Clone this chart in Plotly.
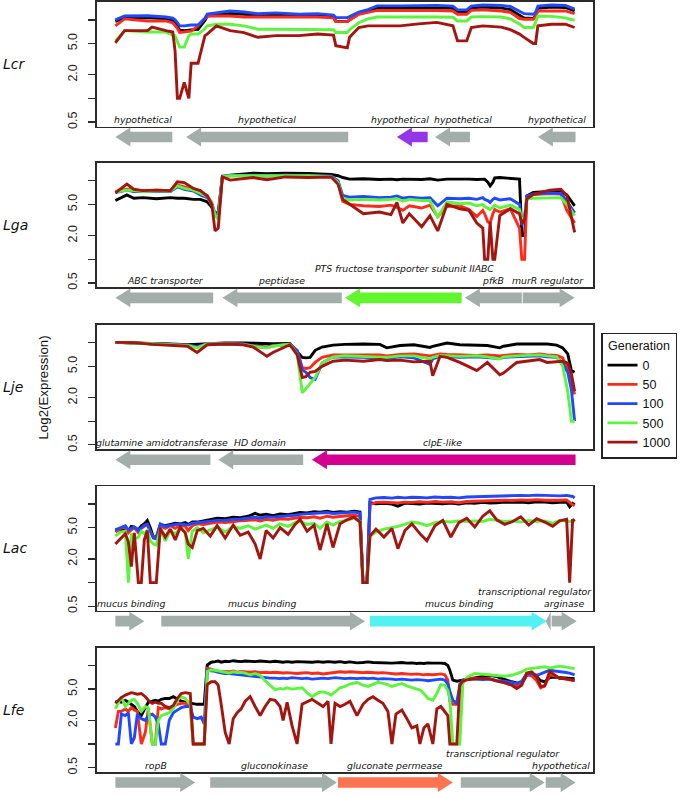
import plotly.graph_objects as go

# ---------------- DATA ----------------
GENERATIONS = ["0", "50", "100", "500", "1000"]

# Lcr (positions in relative units)
lcr_x = [0, 2, 7, 8, 11, 12.5, 13, 13.5, 14, 15, 16, 16.5, 18, 19.5, 20, 22, 25, 28, 31, 35, 40, 44, 47.5, 48,
         50.5, 51, 53, 55, 57, 62, 66, 70, 73.5, 74.5, 76.5, 77.5, 80, 84, 86, 88, 89, 91, 91.5, 92, 95, 98, 100]
lcr_g0 = [9.6, 10.6, 10.7, 10.6, 10.3, 9.9, 9.4, 8.4, 7.4, 7.3, 7.4, 7.5, 7.6, 9.8, 11.2, 11.6, 12.1, 11.8, 11.3,
          11.6, 11.1, 11.3, 10.8, 9.6, 9.5, 10, 12, 12.8, 14.2, 14.2, 14.4, 14.3, 14, 12.4, 12.5, 14.3, 14.6, 14.2,
          13.5, 11.4, 10.6, 10.4, 11.2, 14, 14.6, 14.4, 13]
lcr_g50 = [8.4, 10.3, 9.7, 9.7, 9.7, 9.2, 8.6, 7.8, 6.9, 7.0, 7.0, 7.2, 8.4, 10.6, 11.2, 11.2, 11.2, 10.9, 10.9,
           10.9, 10.8, 10.9, 10.6, 9.5, 9.5, 10, 11.8, 12.4, 13.2, 13.2, 13.3, 13.2, 13, 11.8, 11.8, 13.2, 13.4,
           13, 12.5, 10.4, 10.2, 10.2, 11, 13, 13, 13, 12]
lcr_g100 = [10, 11.2, 11.3, 11.2, 10.9, 10.5, 10, 9.2, 8.4, 8.4, 8.6, 8.6, 8.6, 10.5, 11.9, 12.3, 13, 12.6, 12,
            12.3, 11.8, 12, 11.5, 10.7, 10.7, 11, 12.6, 13.5, 15.1, 15.1, 15.3, 15.3, 15, 13.4, 13.4, 15, 15.5,
            15.3, 14.8, 13, 12, 11.8, 12.5, 15, 15.5, 15.3, 13.7]
lcr_g500 = [5.4, 7.3, 7.0, 7.0, 7.0, 6.4, 6.3, 5.3, 4.5, 4.5, 6.3, 6.6, 6.6, 7.7, 8.4, 8.8, 8.8, 8.4, 7.6, 7.6,
            7.6, 7.6, 7.5, 6.9, 6.9, 7.5, 9.2, 10.3, 10.9, 10.9, 11.0, 10.9, 10.8, 9.7, 9.7, 10.9, 11.0, 10.9,
            10.3, 8.9, 8.0, 8.0, 9.4, 11.2, 11.1, 10.6, 9.9]
lcr_g1000 = [5.1, 7.3, 7.3, 8.1, 7.3, 7.0, 4.0, 1.0, 1.0, 1.6, 1.0, 2.8, 2.8, 6.3, 6.6, 8.4, 7.3, 6.9, 6.0, 6.3,
             6.3, 6.6, 6.4, 4.7, 4.4, 6.0, 8.0, 8.4, 8.4, 8.4, 8.9, 9.3, 8.4, 5.4, 5.4, 8.0, 8.4, 8.1, 7.5, 6.6,
             6.0, 5.0, 5.0, 8.4, 8.8, 8.8, 8.0]
lcr_gene_start = [0, 15.4, 61.3, 69.6, 92.0]
lcr_gene_end = [12.4, 50.7, 68.0, 77.2, 100.2]
lcr_gene_strand = [-1, -1, -1, -1, -1]
lcr_gene_kind = ["other", "other", "purple", "other", "other"]
lcr_gene_label = ["hypothetical", "hypothetical", "hypothetical", "hypothetical", "hypothetical"]
lcr_label_x = [6.1, 33, 62, 75.7, 96.1]
lcr_label_row = [0, 0, 0, 0, 0]

# Lga
lga_x = [0, 2.5, 4, 6, 9, 12, 13.5, 15, 17, 18.5, 20, 21, 21.7, 22.4, 23.3, 25, 30, 33, 37, 42, 47, 48.5, 49.5,
         51, 54, 57.5, 60, 61.3, 62.6, 64, 66.7, 68.5, 70.2, 72.2, 75, 77, 78.7, 80, 80.4, 81.1, 81.6, 82.2, 82.6,
         83.7, 86, 88, 88.5, 89.1, 89.6, 91, 94.6, 97, 98.3, 100]
lga_g0 = [5.6, 6.6, 6.0, 6.1, 5.9, 6.1, 6.0, 6.0, 5.8, 5.8, 5.4, 4.6, 3.8, 4.0, 11.3, 11.8, 12.5, 12.3, 12.5,
          12.4, 12.0, 11.6, 11.0, 10.5, 10.6, 10.4, 10.5, 10.3, 10.5, 10.4, 10.4, 10.6, 10.2, 10.5, 10.6, 10.5,
          10.4, 10.6, 10.5, 9.6, 8.6, 9.6, 10.9, 11.0, 10.7, 10.5, 2.0, 2.0, 6.4, 7.1, 7.3, 7.2, 6.6, 4.8]
lga_g50 = [7.3, 7.8, 7.6, 7.5, 7.6, 7.5, 8.8, 8.3, 7.8, 7.0, 6.5, 5.2, 3.6, 3.4, 11.3, 11.6, 11.7, 11.5, 11.8,
           11.6, 11.4, 9.5, 5.5, 5.0, 4.8, 4.7, 4.9, 4.6, 4.2, 4.8, 4.5, 4.9, 3.5, 4.7, 4.8, 4.3, 3.5, 4.2, 3.8,
           3.0, 2.9, 3.8, 4.3, 4.0, 4.4, 2.5, 1.0, 1.0, 6.2, 6.7, 6.9, 6.8, 4.2, 2.9]
lga_g100 = [7.1, 7.6, 7.3, 7.3, 7.4, 7.3, 8.4, 7.8, 7.4, 6.6, 6.1, 5.0, 3.9, 3.6, 11.5, 11.7, 11.8, 11.6, 11.8,
            11.7, 11.5, 10.0, 6.5, 6.2, 6.3, 6.1, 6.2, 6.4, 6.0, 6.2, 6.0, 6.1, 4.8, 6.0, 5.9, 6.0, 5.8, 6.1, 5.8,
            5.6, 5.3, 5.8, 6.0, 5.7, 5.9, 5.0, 2.7, 3.5, 6.4, 6.8, 7.0, 6.9, 5.5, 3.9]
lga_g500 = [7.2, 7.6, 7.5, 7.3, 7.4, 7.4, 8.6, 8.0, 7.6, 7.0, 6.3, 5.0, 3.7, 3.2, 11.4, 11.6, 11.6, 11.5, 11.7,
            11.6, 11.3, 9.5, 5.9, 5.7, 5.8, 5.7, 5.8, 5.9, 5.5, 5.8, 5.6, 5.6, 3.4, 5.4, 5.1, 5.2, 4.8, 5.0, 4.7,
            4.5, 4.3, 4.6, 4.9, 4.5, 4.9, 4.3, 3.0, 3.5, 5.9, 6.0, 6.0, 6.1, 5.0, 3.6]
lga_g1000 = [7.0, 9.1, 7.8, 7.5, 7.6, 7.5, 9.7, 9.5, 8.0, 7.5, 6.4, 5.0, 2.3, 2.5, 11.2, 10.2, 11.0, 10.3, 11.2,
             11.0, 11.2, 9.0, 5.8, 5.0, 3.8, 4.0, 3.7, 5.3, 2.9, 3.8, 2.6, 3.6, 2.3, 5.0, 4.4, 4.2, 2.9, 2.5, 1.0,
             1.0, 3.0, 1.0, 1.0, 3.6, 4.4, 3.8, 2.9, 3.2, 5.9, 6.7, 7.6, 7.8, 6.5, 2.2]
lga_gene_start = [0, 23.3, 50, 76.1, 88.7]
lga_gene_end = [21.3, 49.3, 75.4, 88.5, 100]
lga_gene_strand = [-1, -1, -1, -1, 1]
lga_gene_kind = ["other", "other", "green", "other", "other"]
lga_gene_label = ["ABC transporter", "peptidase", "PTS fructose transporter subunit IIABC", "pfkB",
                  "murR regulator"]
lga_label_x = [10.9, 36.1, 63, 82.2, 94.1]
lga_label_row = [0, 0, 1, 0, 0]

# Lje
lje_x = [0, 4, 8, 12, 15.7, 17.8, 20, 24, 27.8, 30, 33, 34.3, 38, 39.6, 40.7, 41.5, 42.4, 43.5, 45, 47.4, 50,
         54, 57.6, 59.1, 62, 65, 68.5, 69.1, 70.7, 72.2, 75, 78.7, 81, 83.7, 84.5, 87.4, 90, 92.4, 94, 96.1, 97.4,
         98.5, 99.3, 100]
lje_g0 = [10.1, 10.0, 9.8, 9.6, 9.4, 9.5, 9.8, 9.9, 9.9, 9.8, 9.6, 9.7, 9.8, 7.8, 6.5, 6.4, 6.5, 8.0, 8.8, 9.3,
          9.5, 9.6, 9.5, 8.6, 9.2, 9.4, 8.7, 9.0, 9.5, 9.9, 9.4, 9.3, 9.2, 8.6, 9.0, 9.6, 9.6, 9.5, 9.6, 9.3, 8.6,
          7.2, 4.4, 4.2]
lje_g50 = [10.1, 10.0, 9.7, 9.5, 9.3, 8.8, 9.6, 9.7, 9.6, 9.1, 8.8, 9.2, 9.5, 8.0, 4.8, 4.7, 4.8, 5.6, 6.5, 7.0,
           7.0, 6.9, 7.0, 6.8, 7.1, 7.2, 6.8, 6.9, 7.2, 7.1, 7.0, 6.9, 7.0, 6.8, 6.9, 7.1, 7.0, 7.2, 7.0, 6.9,
           6.4, 4.5, 3.0, 2.2]
lje_g100 = [10.1, 10.0, 9.7, 9.5, 9.3, 8.9, 9.6, 9.7, 9.6, 9.0, 8.7, 9.1, 9.5, 7.8, 4.5, 4.2, 3.6, 3.4, 5.5, 6.6,
            6.6, 6.5, 6.4, 6.3, 6.6, 6.4, 5.3, 6.2, 6.7, 6.6, 6.5, 6.6, 6.4, 6.3, 6.5, 6.6, 6.7, 6.8, 6.6, 6.5,
            5.4, 4.2, 2.5, 1.0]
lje_g500 = [10.1, 10.0, 9.7, 9.4, 9.2, 8.6, 9.6, 9.6, 9.5, 9.0, 8.6, 9.0, 9.6, 7.0, 2.3, 2.6, 3.0, 3.6, 5.5, 6.6,
            6.8, 6.7, 6.6, 6.5, 6.8, 6.8, 6.2, 6.5, 6.9, 6.8, 6.7, 6.8, 6.6, 6.2, 6.6, 6.8, 6.9, 7.0, 6.8, 6.6,
            5.0, 2.4, 1.0, 1.0]
lje_g1000 = [10.1, 10.0, 9.5, 9.2, 9.0, 7.5, 9.4, 9.6, 9.4, 8.8, 6.7, 7.5, 9.4, 7.0, 3.6, 3.7, 4.2, 4.3, 5.0, 5.8,
             6.0, 5.8, 6.1, 5.9, 6.0, 5.7, 5.8, 3.8, 6.7, 6.5, 5.6, 4.4, 5.6, 3.9, 4.1, 5.6, 5.9, 6.1, 5.6, 5.8,
             5.8, 5.5, 4.0, 2.4]
lje_gene_start = [0, 22.4, 42.8]
lje_gene_end = [20.7, 40.9, 100.2]
lje_gene_strand = [-1, -1, -1]
lje_gene_kind = ["other", "other", "magenta"]
lje_gene_label = ["glutamine amidotransferase", "HD domain", "clpE-like"]
lje_label_x = [10.2, 31.5, 71.3]
lje_label_row = [0, 0, 0]

# Lac
lac_x = [0, 5, 10, 13, 16, 19, 23, 26, 29, 32, 35, 38, 41, 45, 50, 55, 60, 65, 70, 73, 77, 82, 88, 95, 102, 110,
         118, 125, 133, 140, 145, 151, 158, 165, 173, 180, 185, 192, 199, 205, 212, 218, 225, 232, 239, 245, 248,
         252, 255, 261, 269, 277, 283, 290, 297, 305, 312, 320, 328, 336, 344, 352, 360, 368, 375, 382, 390, 398,
         406, 414, 422, 430, 438, 445, 452, 455, 458, 460]
lac_g0 = [4.8, 4.6, 5.0, 4.5, 5.2, 5.1, 4.7, 5.3, 5.6, 6.2, 5.0, 3.8, 3.8, 5.5, 5.3, 5.5, 5.7, 5.6, 5.8, 5.5, 5.9,
          5.9, 6.1, 6.3, 6.6, 6.5, 6.8, 6.7, 7.0, 7.6, 7.2, 7.4, 7.1, 7.5, 7.3, 7.6, 7.8, 7.7, 8.0, 7.9, 8.1, 7.8,
          8.0, 7.9, 8.1, 7.9, 1.0, 1.0, 10.4, 10.1, 10.2, 10.0, 9.4, 10.3, 10.1, 10.0, 10.3, 10.2, 10.1, 10.3,
          10.0, 10.4, 10.2, 10.5, 10.3, 10.4, 10.6, 10.5, 10.6, 10.4, 10.7, 10.6, 10.4, 10.5, 10.6, 9.2, 10.2, 9.8]
lac_g50 = [4.4, 4.9, 5.1, 4.3, 4.7, 5.0, 4.3, 4.9, 5.2, 5.5, 4.4, 3.8, 3.6, 5.3, 4.9, 5.3, 4.9, 5.4, 5.2, 4.6,
           5.3, 5.6, 5.5, 5.7, 5.9, 5.8, 6.0, 6.1, 6.2, 6.3, 6.1, 6.4, 6.2, 6.5, 6.4, 6.6, 6.8, 6.7, 6.9, 6.6, 7.0,
           6.8, 7.0, 7.1, 7.2, 7.0, 1.0, 1.0, 9.8, 10.5, 10.6, 10.4, 10.3, 10.6, 10.5, 10.7, 10.5, 10.8, 10.6,
           10.7, 10.4, 10.8, 10.9, 11.0, 10.9, 11.0, 11.2, 11.1, 11.3, 11.2, 11.4, 11.2, 11.1, 11.2, 11.3, 10.4,
           9.8, 9.5]
lac_g100 = [4.7, 5.0, 5.3, 4.7, 4.9, 5.1, 4.6, 5.0, 5.4, 5.5, 4.6, 3.7, 3.6, 5.6, 5.2, 5.4, 5.5, 5.6, 5.5, 5.4,
            5.7, 5.8, 5.9, 6.0, 6.2, 6.2, 6.4, 6.4, 6.6, 6.8, 6.6, 6.9, 6.8, 7.0, 7.1, 7.2, 7.4, 7.5, 7.6, 7.6,
            7.8, 7.6, 7.7, 7.8, 7.9, 7.7, 1.0, 1.0, 11.5, 12.0, 12.1, 11.9, 12.2, 12.0, 12.2, 12.1, 12.0, 12.3,
            12.1, 12.2, 12.0, 12.3, 12.4, 12.5, 12.6, 12.5, 12.8, 12.8, 12.9, 12.8, 13.0, 12.9, 12.8, 12.7, 12.9,
            12.6, 12.5, 12.0]
lac_g500 = [3.9, 4.4, 4.5, 1.0, 4.2, 3.6, 3.8, 4.5, 4.2, 4.6, 3.4, 3.1, 3.0, 4.8, 3.4, 4.6, 4.2, 4.8, 4.4, 2.0,
            4.5, 5.0, 4.3, 4.7, 5.1, 4.4, 5.2, 4.9, 5.3, 4.8, 5.1, 5.4, 4.9, 5.6, 5.2, 5.8, 6.0, 5.5, 5.7, 4.9,
            5.9, 5.4, 6.0, 6.2, 6.6, 6.0, 1.0, 1.0, 3.9, 4.4, 4.8, 5.0, 5.2, 5.5, 5.9, 5.7, 5.3, 5.8, 6.0, 5.9,
            6.1, 6.0, 6.1, 6.0, 6.4, 6.2, 6.0, 6.1, 5.9, 6.2, 6.0, 6.1, 5.7, 6.2, 6.0, 6.0, 6.1, 6.0]
lac_g1000 = [3.1, 3.6, 4.2, 3.3, 1.6, 4.3, 1.0, 1.0, 3.5, 4.6, 1.0, 1.0, 1.0, 4.9, 3.8, 4.8, 3.5, 5.1, 4.3, 3.1,
             2.8, 4.6, 4.9, 3.9, 5.3, 3.7, 5.4, 4.0, 4.4, 3.1, 2.0, 4.6, 3.7, 5.0, 4.1, 5.5, 6.4, 4.5, 5.4, 2.6,
             5.6, 2.8, 5.6, 6.3, 6.8, 5.9, 1.0, 1.0, 3.9, 4.8, 3.8, 4.9, 2.7, 4.6, 5.6, 4.2, 3.4, 5.3, 6.2, 3.8,
             5.8, 6.6, 5.1, 7.0, 8.2, 6.3, 5.5, 6.0, 6.9, 5.4, 6.5, 5.9, 5.2, 6.1, 6.4, 1.0, 6.4, 6.0]
lac_gene_start = [0, 46, 255, 431, 437]
lac_gene_end = [29, 250, 432, 436, 462]
lac_gene_strand = [1, 1, 1, -1, 1]
lac_gene_kind = ["other", "other", "cyan", "other", "other"]
lac_gene_label = ["mucus binding", "mucus binding", "mucus binding", "transcriptional regulator", "arginase"]
lac_label_x = [16, 147, 345, 420, 449]
lac_label_row = [0, 0, 0, 1, 0]

# Lfe
lfe_x = [0, 3, 6, 10, 13, 16, 19, 22, 26, 30, 33, 37, 40, 43, 46, 50, 54, 58, 62, 66, 70, 75, 78, 82, 86, 89, 92,
         96, 100, 103, 106, 110, 114, 118, 122, 126, 130, 135, 140, 145, 150, 155, 160, 165, 168, 172, 177, 182,
         187, 192, 197, 203, 208, 213, 216, 220, 225, 230, 235, 242, 248, 253, 258, 263, 268, 273, 277, 281, 287,
         292, 297, 302, 305, 309, 313, 318, 322, 326, 330, 333, 335, 338, 342, 345, 348, 353, 360, 368, 375, 382,
         390, 397, 402, 407, 412, 417, 422, 426, 430, 435, 440, 445, 450, 455, 460]
lfe_g0 = [3.4, 3.5, 3.4, 3.6, 3.4, 3.2, 3.0, 2.6, 2.3, 2.9, 3.4, 3.5, 3.6, 3.5, 3.7, 3.8, 3.8, 4.0, 3.7, 3.5, 3.4,
          3.3, 3.3, 3.2, 3.2, 3.2,
          10.1, 11.0, 11.2, 11.4, 11.0, 11.3, 11.2, 11.5, 11.3, 11.2, 11.4, 11.3, 11.2, 11.4, 11.3, 11.1, 11.3,
          11.2, 11.0, 11.2, 11.0, 11.2, 11.1, 10.9, 11.0, 11.2, 11.0, 11.2, 11.1, 11.0, 11.2, 10.9, 11.1, 10.8,
          10.9, 11.1, 10.9, 10.8, 10.9, 10.8, 10.7, 10.8, 10.9, 10.7, 10.8, 10.6, 10.7, 10.6, 10.8, 10.7, 10.8,
          10.7, 10.6,
          10.0, 8.7, 6.5, 6.3, 6.4, 6.5, 6.6, 7.0, 7.3, 7.5, 7.2, 6.6, 6.2, 6.0, 5.9, 7.5, 7.9, 7.2, 6.4, 6.2, 7.0,
          7.1, 7.0, 7.0, 6.9, 6.8]
lfe_g50 = [1.6, 2.6, 2.6, 2.8, 2.6, 2.9, 2.7, 2.6, 1.0, 1.4, 2.8, 1.0, 1.0, 2.9, 2.8, 2.9, 2.8, 3.0, 3.2, 3.3, 3.3,
           3.1, 1.0, 1.0, 1.0, 1.0,
           9.2, 9.0, 8.6, 8.5, 8.3, 8.4, 8.3, 8.5, 8.2, 8.4, 8.3, 8.2, 8.3, 8.1, 8.2, 8.1, 8.2, 8.0, 8.0, 8.1, 8.0,
           7.9, 8.0, 8.1, 7.9, 8.0, 7.8, 7.9, 8.0, 8.2, 8.3, 8.2, 8.3, 8.2, 8.1, 8.2, 8.1, 8.0, 8.1, 8.0, 7.9, 7.8,
           7.9, 7.8, 7.7, 7.8, 7.7, 7.6, 7.7, 7.6, 7.7, 7.8, 7.6,
           6.5, 3.5, 3.2, 3.2, 5.2, 6.5, 6.9, 6.9, 6.8, 6.7, 6.4, 6.2, 5.8, 5.4, 6.0, 7.6, 7.4, 6.4, 5.2, 5.5, 7.6,
           7.4, 6.9, 6.7, 6.6, 6.4]
lfe_g100 = [1.0, 1.0, 2.4, 2.3, 2.5, 1.0, 1.2, 2.4, 2.1, 2.0, 2.3, 2.4, 2.2, 1.8, 1.0, 1.0, 2.0, 2.5, 2.7, 2.9,
            3.0, 3.0, 2.2, 2.1, 2.2, 1.8,
            8.7, 8.6, 8.4, 8.2, 8.0, 7.9, 7.9, 7.8, 7.6, 7.6, 7.5, 7.4, 7.3, 7.2, 7.0, 6.9, 6.9, 6.8, 6.9, 6.8,
            7.0, 6.9, 6.8, 6.9, 6.7, 6.8, 6.9, 6.8, 6.9, 7.0, 6.9, 6.8, 6.9, 6.8, 6.9, 6.8, 6.9, 6.7, 6.8, 6.8,
            6.7, 6.6, 6.7, 6.6, 6.5, 6.6, 6.5, 6.5, 6.4, 6.5, 6.6, 6.7, 6.5,
            5.8, 4.7, 3.6, 3.3, 5.8, 6.4, 6.7, 6.7, 6.6, 6.7, 6.4, 6.3, 6.0, 5.9, 6.3, 7.9, 7.8, 7.5, 7.8, 8.2,
            8.7, 8.5, 8.4, 8.2, 8.0, 7.6]
lfe_g500 = [2.8, 3.4, 4.0, 3.0, 3.3, 3.6, 3.7, 3.3, 2.6, 3.0, 2.9, 1.0, 1.0, 2.0, 2.3, 2.4, 2.5, 2.8, 3.6, 4.0,
            3.8, 3.2, 1.0, 1.0, 1.0, 1.0,
            8.4, 8.8, 8.7, 8.5, 8.4, 8.2, 8.0, 8.3, 8.1, 8.2, 8.0, 7.6, 7.9, 7.5, 6.4, 5.6, 4.9, 5.1, 5.0, 5.2,
            5.0, 5.1, 5.2, 4.5, 4.0, 4.5, 4.6, 4.4, 4.2, 4.6, 5.2, 5.4, 5.8, 6.1, 5.6, 5.4, 5.8, 6.1, 5.9, 5.7,
            5.4, 5.6, 5.9, 5.5, 5.2, 5.0, 4.9, 4.4, 3.8, 3.6, 4.4, 5.7, 5.6,
            4.8, 3.7, 1.0, 1.0, 1.0, 5.9, 7.2, 7.9, 7.7, 7.6, 7.4, 7.3, 7.5, 7.8, 8.3, 9.0, 9.2, 9.4, 9.6, 9.6,
            9.3, 9.5, 9.8, 9.6, 9.4, 9.1]
lfe_g1000 = [3.3, 3.6, 3.9, 4.2, 4.4, 4.5, 4.4, 4.3, 4.4, 4.0, 3.6, 3.3, 3.4, 3.3, 3.3, 3.0, 2.9, 3.1, 3.8, 4.4,
             4.5, 4.4, 1.0, 1.0, 1.0, 1.0,
             5.7, 6.2, 6.2, 5.6, 3.2, 1.4, 1.0, 2.1, 2.5, 2.8, 3.5, 4.0, 3.0, 2.3, 3.0, 3.7, 3.6, 3.0, 2.0, 3.4,
             1.7, 1.0, 3.2, 3.4, 3.7, 3.3, 3.0, 3.5, 1.0, 3.3, 3.0, 3.2, 3.5, 2.3, 3.2, 3.7, 4.0, 3.6, 3.3, 2.6,
             1.0, 2.4, 2.7, 2.1, 1.6, 1.7, 1.0, 1.6, 1.8, 1.0, 2.8, 3.0, 2.6,
             2.3, 1.0, 1.0, 1.0, 5.6, 6.3, 6.6, 6.8, 6.9, 6.8, 6.3, 6.0, 5.6, 5.1, 5.6, 8.0, 8.3, 7.2, 5.4, 5.5,
             8.4, 7.6, 6.8, 6.8, 6.6, 6.4]
lfe_gene_start = [0, 95, 223, 346, 431]
lfe_gene_end = [80, 222, 338, 430, 461]
lfe_gene_strand = [1, 1, 1, 1, 1]
lfe_gene_kind = ["other", "other", "orange", "other", "other"]
lfe_gene_label = ["ropB", "gluconokinase", "gluconate permease", "transcriptional regulator", "hypothetical"]
lfe_label_x = [41, 159, 280, 388, 446]
lfe_label_row = [0, 0, 0, 1, 0]

STRAINS = ["Lcr", "Lga", "Lje", "Lac", "Lfe"]
Y_TICKS = [0.5, 1, 2, 5, 10]
Y_TICK_TEXT = ["0.5", "", "2.0", "5.0", ""]

# ---------------- STYLE ----------------
W, H = 685, 796
LINE_COLORS = ["#000000", "#FF2A1A", "#1F48FF", "#5CF53C", "#A3150E"]
GENE_COLORS = {"other": "#A3ADAA", "purple": "#9436E8", "green": "#62F52E", "magenta": "#D4008F",
               "cyan": "#52F2F2", "orange": "#FF7450"}
PANEL_TOPS = [1, 162.5, 325, 487, 649]
PANEL_H = 125
X0, X1 = 97, 593
LABEL_OFF = {0: 118, 1: 106}
FRAME = "#2b2b2b"

panels = [
    (lcr_x, [lcr_g0, lcr_g50, lcr_g100, lcr_g500, lcr_g1000],
     (lcr_gene_start, lcr_gene_end, lcr_gene_strand, lcr_gene_kind, lcr_gene_label, lcr_label_x, lcr_label_row)),
    (lga_x, [lga_g0, lga_g50, lga_g100, lga_g500, lga_g1000],
     (lga_gene_start, lga_gene_end, lga_gene_strand, lga_gene_kind, lga_gene_label, lga_label_x, lga_label_row)),
    (lje_x, [lje_g0, lje_g50, lje_g100, lje_g500, lje_g1000],
     (lje_gene_start, lje_gene_end, lje_gene_strand, lje_gene_kind, lje_gene_label, lje_label_x, lje_label_row)),
    (lac_x, [lac_g0, lac_g50, lac_g100, lac_g500, lac_g1000],
     (lac_gene_start, lac_gene_end, lac_gene_strand, lac_gene_kind, lac_gene_label, lac_label_x, lac_label_row)),
    (lfe_x, [lfe_g0, lfe_g50, lfe_g100, lfe_g500, lfe_g1000],
     (lfe_gene_start, lfe_gene_end, lfe_gene_strand, lfe_gene_kind, lfe_gene_label, lfe_label_x, lfe_label_row)),
]

fig = go.Figure()
layout = dict(width=W, height=H, autosize=False, margin=dict(l=0, r=0, t=0, b=0),
              paper_bgcolor="white", plot_bgcolor="rgba(0,0,0,0)", annotations=[])

for i, (xs, series, genes) in enumerate(panels):
    n = i + 1
    xa = "x" if n == 1 else f"x{n}"
    ya = "y" if n == 1 else f"y{n}"
    tn = n + 5
    ta = f"y{tn}"
    top = PANEL_TOPS[i]
    lo, hi = min(xs), max(xs)
    pad = 0.04 * (hi - lo)
    xr = [lo - pad, hi + pad]

    layout["xaxis" if n == 1 else f"xaxis{n}"] = dict(
        domain=[X0 / W, X1 / W], range=xr, anchor=ya, showline=True, mirror=True, linecolor=FRAME,
        linewidth=1.6, showticklabels=False, ticks="", showgrid=False, zeroline=False, fixedrange=True)
    layout["yaxis" if n == 1 else f"yaxis{n}"] = dict(
        domain=[1 - (top + PANEL_H) / H, 1 - top / H], type="log", range=[-0.358, 1.228], anchor=xa,
        tickvals=Y_TICKS, ticktext=Y_TICK_TEXT, tickangle=-90, ticks="outside", ticklen=7, tickwidth=1.3,
        tickcolor=FRAME, showline=True, mirror=True, linecolor=FRAME, linewidth=1.6, showgrid=False,
        zeroline=False, ticklabelstandoff=6,
        tickfont=dict(family="Liberation Sans, Arial", size=12.5, color="#222"), fixedrange=True)
    layout[f"yaxis{tn}"] = dict(domain=[1 - (top + 145.5) / H, 1 - (top + 125.5) / H], range=[-1, 1],
                                anchor=xa, visible=False, fixedrange=True)

    for k, ys in enumerate(series):
        fig.add_trace(go.Scatter(x=xs, y=ys, mode="lines", name=GENERATIONS[k], legendgroup=GENERATIONS[k],
                                 showlegend=(i == 0), line=dict(color=LINE_COLORS[k], width=2.9),
                                 xaxis=xa, yaxis=ya, hoverinfo="skip"))

    gs, ge, gstr, gkind, glab, glx, glrow = genes
    hl_units = 15 * (xr[1] - xr[0]) / (X1 - X0)
    sh, hh = 0.53, 0.95
    for s, e, d, kind in zip(gs, ge, gstr, gkind):
        hl = min(hl_units, e - s)
        if d > 0:
            px = [s, e - hl, e - hl, e, e - hl, e - hl, s, s]
        else:
            px = [e, s + hl, s + hl, s, s + hl, s + hl, e, e]
        py = [-sh, -sh, -hh, 0, hh, sh, sh, -sh]
        fig.add_trace(go.Scatter(x=px, y=py, mode="lines", fill="toself", fillcolor=GENE_COLORS[kind],
                                 line=dict(width=0, color=GENE_COLORS[kind]), xaxis=xa, yaxis=ta,
                                 showlegend=False, hoverinfo="skip"))
    for lab, lx, row in zip(glab, glx, glrow):
        layout["annotations"].append(dict(
            text=f"<i>{lab}</i>", x=lx, xref=xa, y=(PANEL_H - LABEL_OFF[row]) / PANEL_H, yref=f"{ya} domain",
            showarrow=False, xanchor="center", yanchor="middle",
            font=dict(family="DejaVu Sans", size=9.3, color="#111")))

    layout["annotations"].append(dict(
        text=f"<i>{STRAINS[i]}</i>", x=1 / W, xref="paper", xanchor="left", y=1 - (top + 62.5) / H,
        yref="paper", yanchor="middle", showarrow=False,
        font=dict(family="DejaVu Sans", size=14, color="#111")))

layout["annotations"].append(dict(
    text="Log2(Expression)", x=44 / W, y=1 - 388 / H, xref="paper", yref="paper", textangle=-90,
    showarrow=False, xanchor="center", yanchor="middle",
    font=dict(family="Liberation Sans, Arial", size=13.3, color="#111")))

layout["legend"] = dict(x=601 / W, y=1 - 333 / H, xanchor="left", yanchor="top", bgcolor="white",
                        bordercolor="#222", borderwidth=1.5, itemwidth=30, tracegroupgap=0,
                        font=dict(family="Liberation Sans, Arial", size=12.5, color="#111"),
                        title=dict(text="Generation", side="top center",
                                   font=dict(family="Liberation Sans, Arial", size=12.5, color="#111")))

fig.update_layout(**layout)
fig.write_html("out.html", config={"displayModeBar": False, "staticPlot": True},
               post_script="document.body.style.margin='0';document.body.style.overflow='hidden';")
